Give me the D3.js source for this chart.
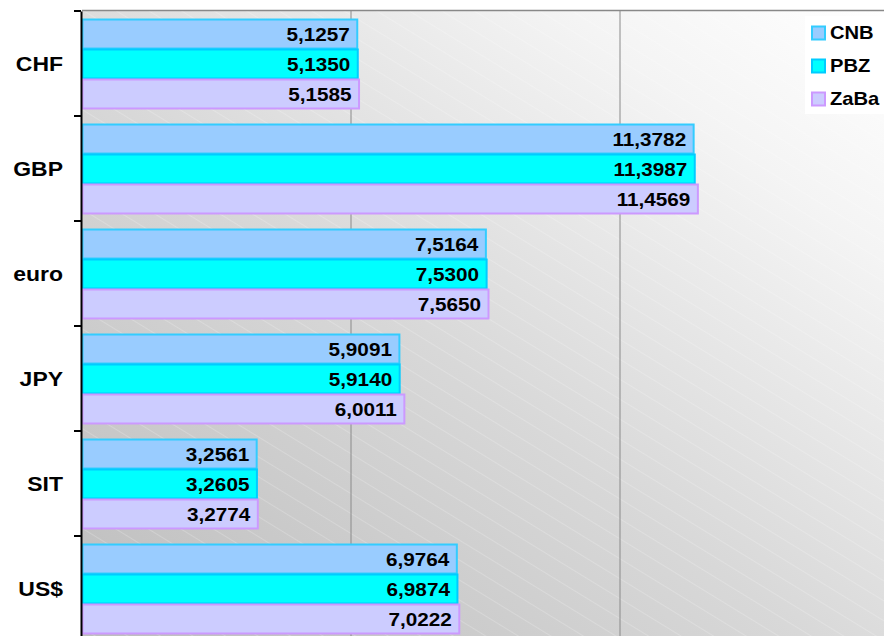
<!DOCTYPE html>
<html><head><meta charset="utf-8">
<script src="https://cdn.jsdelivr.net/npm/d3@7/dist/d3.min.js"></script>
<style>body{margin:0;background:#fff}svg{display:block}</style>
</head><body>
<svg id="c" width="884" height="636"></svg>
<script>
const categories = ["CHF","GBP","euro","JPY","SIT","US$"];
const seriesNames = ["CNB","PBZ","ZaBa"];
const CNB  = [5.1257, 11.3782, 7.5164, 5.9091, 3.2561, 6.9764];
const PBZ  = [5.1350, 11.3987, 7.5300, 5.9140, 3.2605, 6.9874];
const ZaBa = [5.1585, 11.4569, 7.5650, 6.0011, 3.2774, 7.0222];
const xTicks = [0, 5, 10, 15];
const fills = ["#99ccff","#00ffff","#ccccff"];
const strokes = ["#33ccff","#00ccff","#cc99ff"];
const seriesVals = [CNB, PBZ, ZaBa];

const FONT = "Liberation Sans, Arial, sans-serif";
const SX = 1.12;
const svg = d3.select("#c");
const pL = 82, pT = 11, pR = 889, pB = 641;
const x = d3.scaleLinear().domain([0, 15]).range([pL, pR]);
const y = d3.scaleBand().domain(categories).range([pT, pB]).paddingInner(0.143).paddingOuter(0.0715);
const ys = d3.scaleBand().domain(seriesNames).range([0, y.bandwidth()]);

const defs = svg.append("defs");
const grad = defs.append("linearGradient").attr("id","bg").attr("x1","0").attr("y1","1").attr("x2","1").attr("y2","0");
grad.append("stop").attr("offset","0").attr("stop-color","#bdbdbd");
grad.append("stop").attr("offset","0.45").attr("stop-color","#d8d8d8");
grad.append("stop").attr("offset","0.8").attr("stop-color","#f4f4f4");
grad.append("stop").attr("offset","1").attr("stop-color","#ffffff");
const pat = defs.append("pattern").attr("id","hatch").attr("patternUnits","userSpaceOnUse")
  .attr("width",17).attr("height",17).attr("patternTransform","rotate(-58.5)");
pat.append("line").attr("x1",0).attr("y1",0).attr("x2",0).attr("y2",17)
  .attr("stroke","#ffffff").attr("stroke-opacity",0.4).attr("stroke-width",1);

svg.append("rect").attr("x",pL).attr("y",pT).attr("width",pR-pL).attr("height",pB-pT).attr("fill","url(#bg)");
svg.append("rect").attr("x",pL).attr("y",pT).attr("width",pR-pL).attr("height",pB-pT).attr("fill","url(#hatch)");

// gridlines
svg.append("g").selectAll("line").data(xTicks.filter(d=>d>0)).join("line")
  .attr("x1",d=>x(d)).attr("x2",d=>x(d)).attr("y1",pT).attr("y2",pB)
  .attr("stroke","#8a8a8a").attr("stroke-width",1);
// top border
svg.append("line").attr("x1",pL).attr("x2",884).attr("y1",pT-0.5).attr("y2",pT-0.5)
  .attr("stroke","#888").attr("stroke-width",1.5);

// bars
const g = svg.append("g");
seriesNames.forEach((s, si) => {
  const vals = seriesVals[si];
  g.selectAll("rect.s"+si).data(categories).join("rect").attr("class","s"+si)
    .attr("x", x(0)+0.5)
    .attr("y", (c)=> y(c)+ys(s)+1)
    .attr("width", (c,i)=> x(vals[i])-x(0)-1)
    .attr("height", ys.bandwidth()-1)
    .attr("fill", fills[si]).attr("stroke", strokes[si]).attr("stroke-width",2);
  g.selectAll("text.s"+si).data(categories).join("text").attr("class","s"+si)
    .attr("transform",(c,i)=> `translate(${x(vals[i])-8},${y(c)+ys(s)+ys.bandwidth()/2+1}) scale(${SX},1)`)
    .attr("text-anchor","end").attr("dominant-baseline","central")
    .attr("font-family",FONT).attr("font-weight","bold").attr("font-size","18.5px")
    .attr("fill","#000")
    .text((c,i)=> vals[i].toFixed(4).replace(".", ","));
});

// y axis
const yAxis = d3.axisLeft(y).tickSize(0).tickPadding(0).tickFormat(()=> "");
const ya = svg.append("g").attr("transform",`translate(${pL-1},0)`).call(yAxis);
ya.select(".domain").attr("stroke","#000").attr("stroke-width",2);
svg.append("g").selectAll("text").data(categories).join("text")
  .attr("transform", c => `translate(63,${y(c)+y.bandwidth()/2}) scale(${SX},1)`)
  .attr("text-anchor","end").attr("dominant-baseline","central")
  .attr("font-family",FONT).attr("font-weight","bold").attr("font-size","20.5px").attr("fill","#000")
  .text(c=>c);
// category boundary ticks
const bounds = categories.map(c => y(c) - y.step()*y.paddingInner()/2).concat([y(categories[categories.length-1])+y.bandwidth()+y.step()*y.paddingInner()/2]);
svg.append("g").selectAll("line").data(bounds).join("line")
  .attr("x1",pL-8).attr("x2",pL-1).attr("y1",d=>d).attr("y2",d=>d)
  .attr("stroke","#000").attr("stroke-width",2);

// legend
const lg = svg.append("g");
lg.append("rect").attr("x",805).attr("y",16).attr("width",79).attr("height",98).attr("fill","#fff");
seriesNames.forEach((s,i)=>{
  const yy = 33 + i*33;
  lg.append("rect").attr("x",812).attr("y",yy-6.5).attr("width",13).attr("height",13)
    .attr("fill",fills[i]).attr("stroke",strokes[i]).attr("stroke-width",2);
  lg.append("text").attr("transform",`translate(830,${yy}) scale(${SX},1)`).attr("dominant-baseline","central")
    .attr("font-family",FONT).attr("font-weight","bold").attr("font-size","18px")
    .text(s);
});
</script>
</body></html>
